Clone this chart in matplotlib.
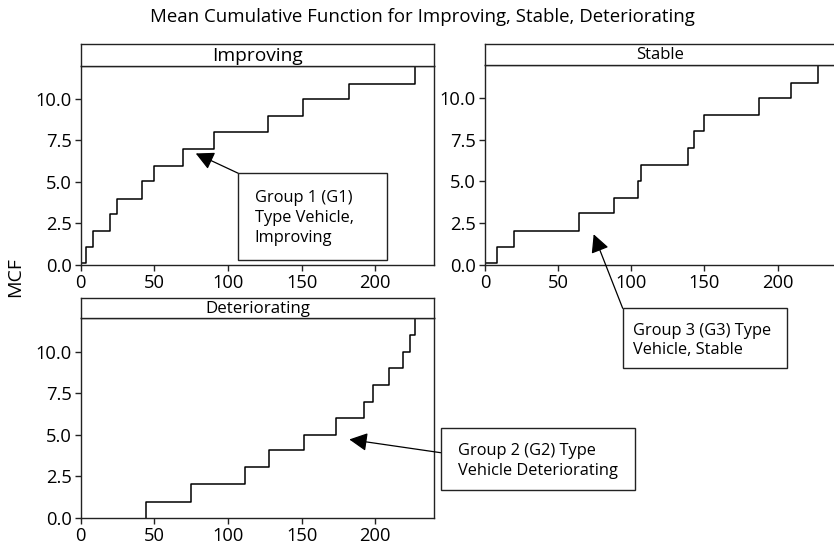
import matplotlib
matplotlib.use("Agg")
import matplotlib.pyplot as plt
from matplotlib.patches import Rectangle

plt.rcParams['font.family'] = ['Open Sans', 'DejaVu Sans']

# step times and MCF levels for each vehicle group
improving_t = [0, 3.4, 8.6, 20.1, 24.9, 41.4, 50.0, 69.3, 90.3, 127.0, 150.8, 182.0, 226.6]
improving_mcf = [0.1, 1.1, 2.05, 3.05, 4.0, 5.05, 5.95, 6.95, 8.0, 8.95, 10.0, 10.9, 12.0]

stable_t = [0, 8.0, 20.1, 64.5, 88.5, 104.8, 106.8, 138.9, 143.0, 149.9, 187.6, 208.9, 227.9]
stable_mcf = [0.1, 1.1, 2.02, 3.1, 4.0, 5.05, 6.0, 7.0, 8.0, 9.0, 10.0, 10.9, 12.0]

deter_t = [44.4, 44.4, 75.2, 111.8, 127.7, 151.7, 173.0, 192.2, 198.6, 209.2, 219.0, 223.3, 226.6]
deter_mcf = [0.0, 0.96, 2.0, 3.03, 4.05, 4.95, 6.0, 6.98, 7.96, 9.02, 9.96, 10.98, 12.0]

x_ticks = [0, 50, 100, 150, 200]
y_ticks = [0.0, 2.5, 5.0, 7.5, 10.0]

W, H = 834, 546
fig = plt.figure(figsize=(W / 100, H / 100), dpi=100)


def fx(px):
    return px / W


def fy(py):
    return 1 - py / H


def panel(left, right, top, bottom, strip_top, name, t, mcf, title_size):
    ax = fig.add_axes([fx(left), fy(bottom), fx(right) - fx(left), fy(top) - fy(bottom)])
    ax.step(t, mcf, where='post', color='black', lw=1.1)
    ax.set_xlim(0, 240)
    ax.set_ylim(0, 12)
    ax.set_xticks(x_ticks)
    ax.set_yticks(y_ticks)
    ax.set_yticklabels([f"{v:.1f}" for v in y_ticks])
    ax.tick_params(labelsize=13.2, length=4.5, width=1, pad=2, color='#222222')
    for s in ax.spines.values():
        s.set_linewidth(1.0)
        s.set_color('#222222')
    # title strip above the panel
    st = fig.add_axes([fx(left), fy(top), fx(right) - fx(left), fy(strip_top) - fy(top)])
    st.set_xticks([])
    st.set_yticks([])
    for s in st.spines.values():
        s.set_linewidth(1.0)
        s.set_color('#222222')
    st.text(0.5, 0.45, name, ha='center', va='center', fontsize=title_size,
            transform=st.transAxes)
    return ax


ax1 = panel(80.7, 434.3, 65.5, 265, 44.3, "Improving", improving_t, improving_mcf, 13.8)
ax2 = panel(485, 836, 64.5, 265, 44.3, "Stable", stable_t, stable_mcf, 12)
ax3 = panel(80.7, 434.3, 318.3, 517.7, 298.3, "Deteriorating", deter_t, deter_mcf, 12.2)

fig.text(fx(422.5), fy(17), "Mean Cumulative Function for Improving, Stable, Deteriorating",
         ha='center', va='center', fontsize=13.4)
fig.text(fx(15), fy(277), "MCF", ha='center', va='center', rotation=90, fontsize=14)


def callout(ax, tip, box, start, text, text_x, text_y):
    x0, y0, x1, y1 = box
    fig.add_artist(Rectangle((fx(x0), fy(y1)), fx(x1) - fx(x0), fy(y0) - fy(y1),
                             transform=fig.transFigure, facecolor='white',
                             edgecolor='#222222', lw=1.0, zorder=5))
    fig.text(fx(text_x), fy(text_y), text, ha='left', va='center', fontsize=11.8,
             linespacing=1.33, zorder=6)
    ax.annotate('', xy=tip, xycoords='data',
                xytext=(fx(start[0]), fy(start[1])), textcoords='figure fraction',
                arrowprops=dict(arrowstyle='-|>,head_length=0.55,head_width=0.28',
                                color='black', lw=0.9, mutation_scale=20,
                                shrinkA=0, shrinkB=0),
                annotation_clip=False, zorder=4)


callout(ax1, (78.1, 6.71), (238.3, 173.3, 386.7, 260), (238.3, 173.3),
        "Group 1 (G1)\nType Vehicle,\nImproving", 254.7, 218)
callout(ax2, (74.3, 1.84), (622.7, 308.3, 787.3, 367.7), (622.7, 308.3),
        "Group 3 (G3) Type\nVehicle, Stable", 633.3, 340.5)
callout(ax3, (182.3, 4.71), (440.7, 428.3, 635, 490), (440.7, 452.7),
        "Group 2 (G2) Type\nVehicle Deteriorating", 458.3, 461.2)

fig.savefig("out.png", dpi=100)
